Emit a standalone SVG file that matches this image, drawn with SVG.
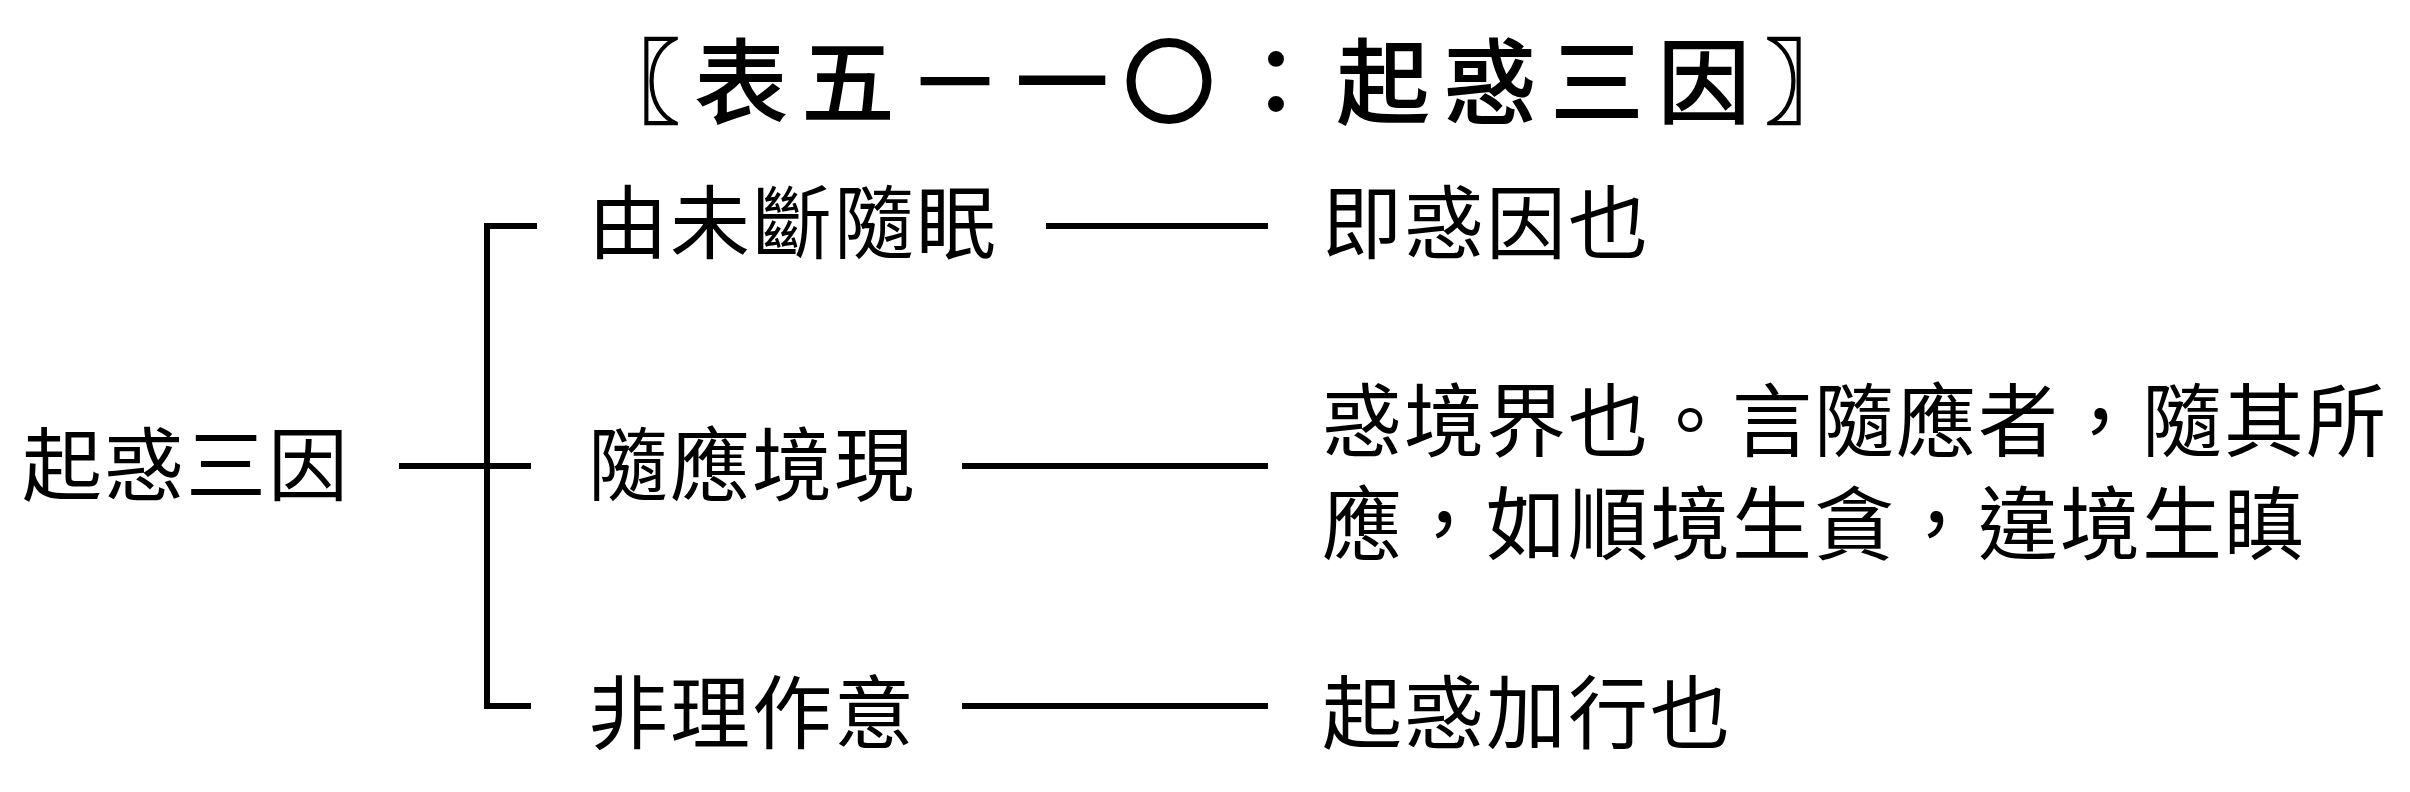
<svg xmlns="http://www.w3.org/2000/svg" width="2410" height="792" viewBox="0 0 2410 792">
<style>
.t{font-family:"Noto Sans CJK TC","Noto Sans CJK SC",sans-serif;font-size:80px;letter-spacing:2px;fill:#000}
.title{font-family:"Noto Sans CJK TC","Noto Sans CJK SC",sans-serif;font-size:92px;letter-spacing:15px;fill:#000;stroke:#000;stroke-width:2}
.c{stroke:#000;stroke-width:6;fill:none;stroke-linecap:butt}
</style>
<rect width="2410" height="792" fill="#fff"/>
<g id="title"><text class="title" x="588" y="116">〖表五－一〇：起惑三因〗</text></g>
<g id="root"><text class="t" x="22" y="494">起惑三因</text></g>
<g id="n1"><text class="t" x="588" y="252">由未斷隨眠</text></g>
<g id="n2"><text class="t" x="588" y="494">隨應境現</text></g>
<g id="n3"><text class="t" x="588" y="742">非理作意</text></g>
<g id="d1"><text class="t" x="1322" y="252">即惑因也</text></g>
<g id="d2"><text class="t" x="1322" y="450">惑境界也。言隨應者，隨其所<tspan x="1322" y="553">應，如順境生貪，違境生瞋</tspan></text></g>
<g id="d3"><text class="t" x="1322" y="742">起惑加行也</text></g>
<g id="connectors">
<line class="c" x1="399" y1="466" x2="531" y2="466"/>
<polyline class="c" points="537,226 487,226 487,706 531,706"/>
<line class="c" x1="1046" y1="226" x2="1268" y2="226"/>
<line class="c" x1="962" y1="466" x2="1268" y2="466"/>
<line class="c" x1="962" y1="706" x2="1268" y2="706"/>
</g>
</svg>
